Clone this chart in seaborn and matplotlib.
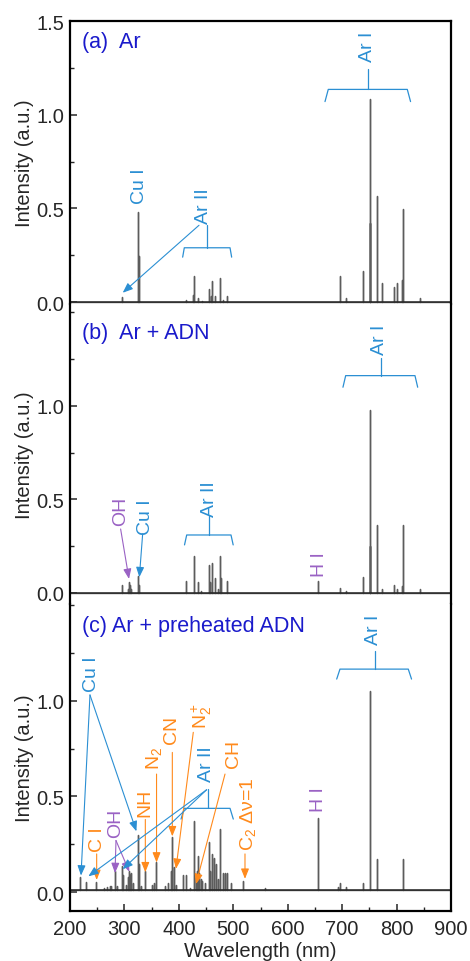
import pandas as pd
import seaborn as sns
import matplotlib.pyplot as plt
from matplotlib.ticker import MultipleLocator

sns.set_theme(style="white")
plt.rcParams['font.family'] = ['Liberation Sans', 'DejaVu Sans']
plt.rcParams['mathtext.fontset'] = 'custom'
plt.rcParams['mathtext.rm'] = 'Liberation Sans'
plt.rcParams['mathtext.it'] = 'Liberation Sans:italic'
plt.rcParams['mathtext.bf'] = 'Liberation Sans:bold'

# ---- emission lines (wavelength in nm, relative intensity) ----
ar_wl = [295.5, 324.7, 327.4, 413.2, 425.4, 427.8, 434.8, 443.0, 454.5, 458.4,
         460.9, 466.4, 476.5, 480.6, 487.9, 696.5, 706.7, 738.4, 750.4, 751.5,
         763.5, 772.4, 794.8, 801.5, 810.4, 811.5, 842.5]
ar_int = [0.03, 0.48, 0.245, 0.01, 0.04, 0.14, 0.02, 0.005, 0.07, 0.035,
          0.115, 0.035, 0.13, 0.01, 0.035, 0.14, 0.02, 0.165, 1.085, 0.42,
          0.565, 0.10, 0.08, 0.10, 0.12, 0.495, 0.02]

adn_wl = [295.5, 306.4, 308.9, 309.5, 312.0, 324.7, 327.4, 413.2, 427.8, 434.8,
          440.1, 454.5, 458.0, 460.9, 465.8, 472.7, 476.5, 477.0, 487.9, 656.3,
          696.5, 706.7, 738.4, 750.4, 751.5, 763.5, 772.4, 794.8, 801.5, 810.4,
          811.5, 842.5]
adn_int = [0.045, 0.02, 0.06, 0.04, 0.02, 0.09, 0.045, 0.066, 0.195, 0.06,
           0.01, 0.15, 0.06, 0.16, 0.08, 0.02, 0.20, 0.08, 0.065, 0.063,
           0.025, 0.01, 0.084, 0.98, 0.25, 0.364, 0.02, 0.04, 0.02, 0.035,
           0.364, 0.02]

hot_wl = [219.2, 229.4, 247.9, 262.0, 268.0, 273.0, 276.0, 282.5, 287.0, 294.8,
          297.5, 302.0, 306.5, 308.9, 310.5, 312.5, 315.0, 324.7, 327.4, 330.0,
          337.1, 350.0, 353.7, 357.7, 375.0, 380.5, 385.0, 386.2, 387.1, 388.3,
          391.4, 394.0, 407.0, 412.5, 420.0, 427.8, 431.4, 433.5, 434.8, 437.5,
          440.0, 442.6, 448.0, 454.5, 458.0, 460.9, 465.0, 468.2, 472.7, 476.5,
          480.6, 484.8, 487.9, 496.5, 517.0, 558.0, 656.3, 693.0, 696.5, 706.7,
          738.4, 750.4, 751.5, 763.5, 811.5]
hot_int = [0.07, 0.045, 0.045, 0.01, 0.015, 0.02, 0.02, 0.10, 0.025, 0.125,
           0.08, 0.03, 0.07, 0.10, 0.08, 0.09, 0.04, 0.29, 0.135, 0.02,
           0.10, 0.03, 0.04, 0.148, 0.02, 0.04, 0.08, 0.10, 0.12, 0.28,
           0.12, 0.03, 0.08, 0.08, 0.01, 0.36, 0.07, 0.10, 0.18, 0.09,
           0.06, 0.05, 0.04, 0.25, 0.10, 0.19, 0.17, 0.14, 0.06, 0.32,
           0.09, 0.09, 0.09, 0.04, 0.05, 0.01, 0.375, 0.015, 0.04, 0.015,
           0.04, 1.04, 0.80, 0.165, 0.165]

baselines = [0.0, 0.0, 0.01]
panel_titles = ["(a)  Ar", "(b)  Ar + ADN", "(c) Ar + preheated ADN"]
x_range = (200, 900)

BLUE_T = '#1a1acb'
BLUE = '#2b8fd3'
ORANGE = '#ff8a1c'
PURPLE = '#9a62c4'
STICK = '#5c5c5c'
BASE = '#262626'


def stick_frame(wl, inten, base):
    """Stick spectrum path running along the baseline."""
    xs, ys = [x_range[0]], [base]
    for w, h in sorted(zip(wl, inten)):
        xs += [w, w, w]
        ys += [base, base + h, base]
    xs.append(x_range[1])
    ys.append(base)
    return pd.DataFrame({"wavelength": xs, "intensity": ys})


def bracket(ax, x0, x1, xs, y, ybot, ytop, dx=3):
    ax.plot([x0 - dx, x0, x1, x1 + dx], [ybot, y, y, ybot], color=BLUE, lw=0.9)
    ax.plot([xs, xs], [y, ytop], color=BLUE, lw=0.9)


def label(ax, x, y, s, color, size=14):
    ax.text(x, y, s, rotation=90, ha='center', va='bottom', color=color,
            fontsize=size)


def arrow(ax, start, end, color):
    ax.annotate('', xy=end, xytext=start,
                arrowprops=dict(arrowstyle='-|>,head_length=0.6,head_width=0.24',
                                color=color, lw=0.8, mutation_scale=10,
                                shrinkA=0, shrinkB=0))


fig = plt.figure(figsize=(4.7, 9.62), dpi=100)
left, width = 70 / 470, 381 / 470
ax_a = fig.add_axes([left, 1 - 305 / 962, width, 283 / 962])
ax_b = fig.add_axes([left, 1 - 605 / 962, width, 300 / 962])
ax_c = fig.add_axes([left, 1 - 912 / 962, width, 307 / 962])
axes = [ax_a, ax_b, ax_c]
ylims = [(-0.01, 1.5), (-0.059, 1.545), (-0.098, 1.505)]
series = [(ar_wl, ar_int), (adn_wl, adn_int), (hot_wl, hot_int)]

for i, ax in enumerate(axes):
    df = stick_frame(*series[i], baselines[i])
    sns.lineplot(data=df, x="wavelength", y="intensity", sort=False,
                 estimator=None, color=STICK, lw=1.0, ax=ax)
    base_df = pd.DataFrame({"wavelength": list(x_range),
                            "intensity": [baselines[i]] * 2})
    sns.lineplot(data=base_df, x="wavelength", y="intensity", color=BASE,
                 lw=1.1, ax=ax)
    ax.set_xlim(*x_range)
    ax.set_ylim(*ylims[i])
    ax.set_yticks([0, 0.5, 1.0, 1.5] if i == 0 else [0, 0.5, 1.0])
    ax.yaxis.set_minor_locator(MultipleLocator(0.25))
    ax.xaxis.set_major_locator(MultipleLocator(100))
    ax.xaxis.set_minor_locator(MultipleLocator(50))
    ax.set_ylabel("Intensity (a.u.)", fontsize=14.5, labelpad=2)
    ax.tick_params(axis='y', which='both', direction='in', left=True,
                   labelsize=14.5, pad=4)
    ax.tick_params(axis='y', which='major', length=5, width=1.1)
    ax.tick_params(axis='y', which='minor', length=3, width=1.0)
    for side in ('left', 'right', 'top', 'bottom'):
        ax.spines[side].set_linewidth(1.6)
        ax.spines[side].set_color('black')
    if i < 2:
        ax.tick_params(axis='x', which='both', bottom=False, labelbottom=False)
        ax.set_xlabel("")
        ax.spines['bottom'].set_visible(False)
    if i > 0:
        ax.spines['top'].set_visible(False)
    ax.text(0.032, [0.926, 0.906, 0.929][i], panel_titles[i],
            transform=ax.transAxes, ha='left', va='center', color=BLUE_T,
            fontsize=15.5)

ax_c.tick_params(axis='x', which='both', direction='in', bottom=True,
                 labelsize=14.5, pad=6)
ax_c.tick_params(axis='x', which='major', length=5, width=1.1)
ax_c.tick_params(axis='x', which='minor', length=3, width=1.0)
ax_c.set_xlabel("Wavelength (nm)", fontsize=14.5, labelpad=2)

# ---- (a) Ar ----
label(ax_a, 327.4, 0.53, "Cu I", BLUE)
label(ax_a, 446, 0.42, "Ar II", BLUE)
bracket(ax_a, 410, 494, 452, 0.29, 0.24, 0.41)
arrow(ax_a, (437, 0.41), (296.8, 0.05), BLUE)
label(ax_a, 747, 1.285, "Ar I", BLUE)
bracket(ax_a, 674.5, 819.7, 748, 1.135, 1.07, 1.245, dx=6)

# ---- (b) Ar + ADN ----
label(ax_b, 293, 0.364, "OH", PURPLE)
arrow(ax_b, (293, 0.342), (308.4, 0.075), PURPLE)
label(ax_b, 337.8, 0.316, "Cu I", BLUE)
arrow(ax_b, (333.5, 0.316), (327.4, 0.084), BLUE)
label(ax_b, 456, 0.41, "Ar II", BLUE)
bracket(ax_b, 414.4, 495.8, 456, 0.31, 0.257, 0.41, dx=4)
label(ax_b, 658, 0.093, "H I", PURPLE)
label(ax_b, 769.5, 1.28, "Ar I", BLUE)
bracket(ax_b, 706.5, 833.8, 770.8, 1.162, 1.10, 1.255, dx=5)

# ---- (c) Ar + preheated ADN ----
label(ax_c, 239.8, 1.05, "Cu I", BLUE)
arrow(ax_c, (236.7, 1.03), (220.2, 0.087), BLUE)
arrow(ax_c, (236.7, 1.03), (322, 0.318), BLUE)
label(ax_c, 250, 0.217, "C I", ORANGE)
arrow(ax_c, (249, 0.2), (249, 0.064), ORANGE)
label(ax_c, 284.5, 0.287, "OH", PURPLE)
arrow(ax_c, (284.5, 0.27), (282.7, 0.10), PURPLE)
arrow(ax_c, (284.5, 0.27), (309, 0.107), PURPLE)
label(ax_c, 338.4, 0.40, "NH", ORANGE)
arrow(ax_c, (338.4, 0.38), (338.4, 0.104), ORANGE)
label(ax_c, 354.5, 0.643, r"N$_2$", ORANGE)
arrow(ax_c, (359, 0.617), (359, 0.155), ORANGE)
label(ax_c, 386.8, 0.78, "CN", ORANGE)
arrow(ax_c, (388, 0.73), (388, 0.292), ORANGE)
label(ax_c, 442, 0.86, r"N$_2^+$", ORANGE)
arrow(ax_c, (426.5, 0.835), (394.7, 0.122), ORANGE)
label(ax_c, 451, 0.58, "Ar II", BLUE)
bracket(ax_c, 410, 494, 454, 0.438, 0.382, 0.539, dx=6)
arrow(ax_c, (451, 0.535), (233.7, 0.083), BLUE)
arrow(ax_c, (451, 0.535), (296.8, 0.12), BLUE)
label(ax_c, 500, 0.652, "CH", ORANGE)
arrow(ax_c, (484.8, 0.617), (431.5, 0.043), ORANGE)
label(ax_c, 527.6, 0.22, r"C$_2$ Δν=1", ORANGE)
arrow(ax_c, (521.5, 0.2), (521.5, 0.07), ORANGE)
label(ax_c, 656, 0.426, "H I", PURPLE)
label(ax_c, 757, 1.295, "Ar I", BLUE)
bracket(ax_c, 696, 821.5, 760.4, 1.165, 1.113, 1.26, dx=6)

fig.savefig("out.png", dpi=100)
